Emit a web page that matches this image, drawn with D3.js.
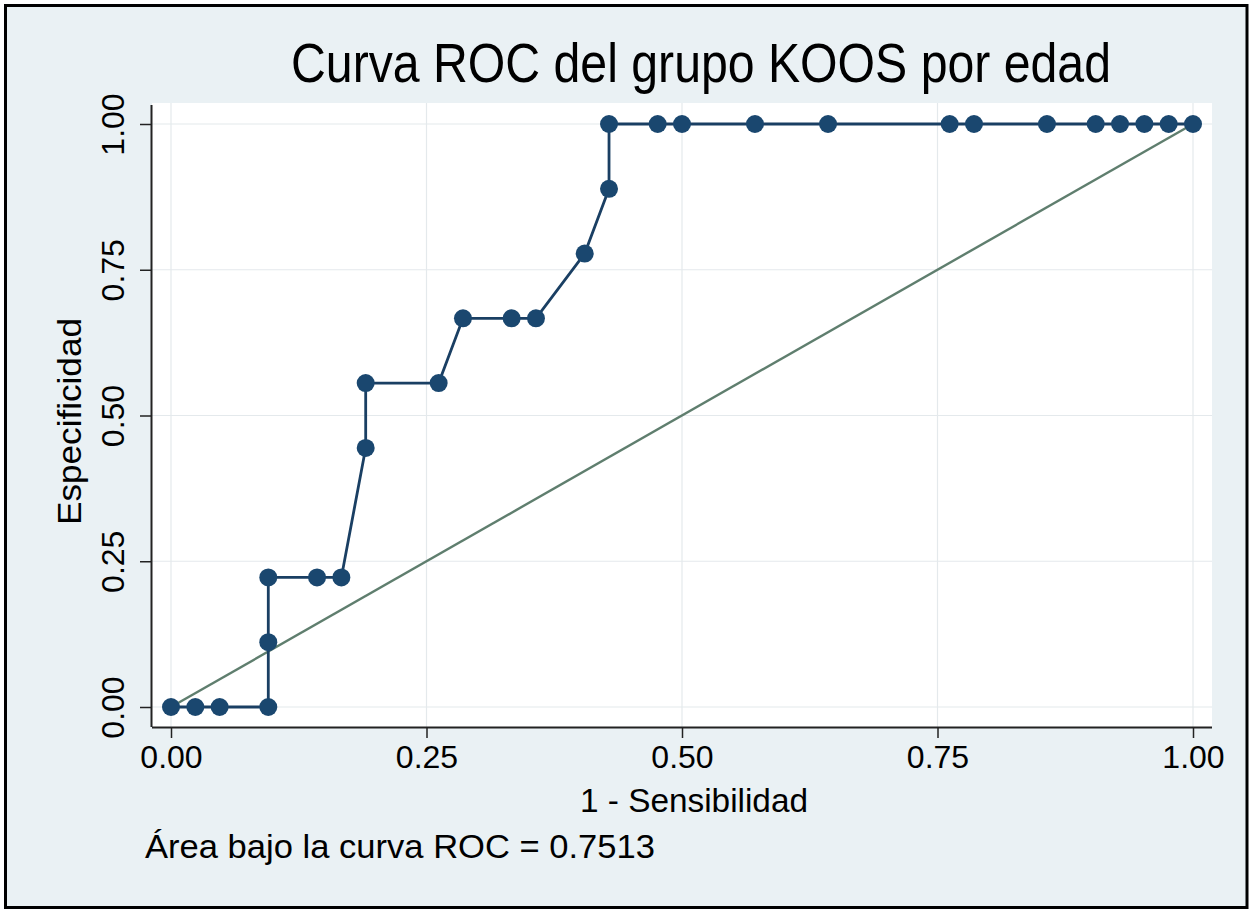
<!DOCTYPE html>
<html>
<head>
<meta charset="utf-8">
<script src="https://cdn.jsdelivr.net/npm/d3@7"></script>
<style>
  html, body { margin: 0; padding: 0; background: #ffffff; }
  svg { display: block; }
  text { font-family: "Liberation Sans", Arial, Helvetica, sans-serif; fill: #000; }
</style>
</head>
<body>
<svg id="chart" width="1259" height="914"></svg>
<script>
// ---- Data ----
const title = "Curva ROC del grupo KOOS por edad";
const xLabel = "1 - Sensibilidad";
const yLabel = "Especificidad";
const note = "Área bajo la curva ROC = 0.7513";
const xTicks = [0, 0.25, 0.5, 0.75, 1];
const yTicks = [0, 0.25, 0.5, 0.75, 1];
const tickLabels = ["0.00", "0.25", "0.50", "0.75", "1.00"];
// ROC curve points: x = 1 - Sensibilidad, y = Especificidad
const rocX = [0, 0.0238, 0.0476, 0.0952, 0.0952, 0.0952, 0.1429, 0.1667, 0.1905, 0.1905,
              0.2619, 0.2857, 0.3333, 0.3571, 0.4048, 0.4286, 0.4286, 0.4762, 0.5, 0.5714,
              0.6429, 0.7619, 0.7857, 0.8571, 0.9048, 0.9286, 0.9524, 0.9762, 1];
const rocY = [0, 0, 0, 0, 0.1111, 0.2222, 0.2222, 0.2222, 0.4444, 0.5556,
              0.5556, 0.6667, 0.6667, 0.6667, 0.7778, 0.8889, 1, 1, 1, 1,
              1, 1, 1, 1, 1, 1, 1, 1, 1];
const refLine = [[0, 0], [1, 1]];

// ---- Layout ----
const svg = d3.select("#chart");
const plot = { left: 152, right: 1212, top: 103, bottom: 727 };

const x = d3.scaleLinear().domain([0, 1]).range([171, 1193]);
const y = d3.scaleLinear().domain([0, 1]).range([707, 124]);

// outer frame
svg.append("rect")
  .attr("x", 5.5).attr("y", 5.5).attr("width", 1241.5).attr("height", 902)
  .attr("fill", "#eaf1f4").attr("stroke", "#000").attr("stroke-width", 3);

// plot region
svg.append("rect")
  .attr("x", plot.left).attr("y", plot.top)
  .attr("width", plot.right - plot.left).attr("height", plot.bottom - plot.top)
  .attr("fill", "#ffffff");

// grid lines
const grid = svg.append("g").attr("stroke", "#e4e9ec").attr("stroke-width", 1.2);
grid.selectAll("line.gx").data(xTicks).join("line")
  .attr("x1", d => x(d)).attr("x2", d => x(d))
  .attr("y1", plot.top).attr("y2", plot.bottom);
grid.selectAll("line.gy").data(yTicks).join("line")
  .attr("y1", d => y(d)).attr("y2", d => y(d))
  .attr("x1", plot.left).attr("x2", plot.right);

// axes
const xAxis = d3.axisBottom(x).tickValues(xTicks)
  .tickFormat((d, i) => tickLabels[i]).tickSize(11).tickPadding(4);
const gx = svg.append("g").attr("transform", `translate(0,${plot.bottom})`).call(xAxis);
gx.select(".domain").attr("d", `M${plot.left},0.5H${plot.right}`).attr("stroke", "#222").attr("stroke-width", 2);
gx.selectAll(".tick line").attr("stroke", "#222").attr("stroke-width", 1.5);
gx.selectAll(".tick text")
  .attr("font-size", 32).attr("font-family", "Liberation Sans, Arial, sans-serif")
  .attr("fill", "#111").attr("dy", null).attr("y", 41);

const yAxis = d3.axisLeft(y).tickValues(yTicks)
  .tickFormat((d, i) => tickLabels[i]).tickSize(12);
const gy = svg.append("g").attr("transform", `translate(${plot.left},0)`).call(yAxis);
gy.select(".domain").attr("d", `M-0.5,${plot.top + 2}V${plot.bottom}`).attr("stroke", "#222").attr("stroke-width", 2);
gy.selectAll(".tick line").attr("stroke", "#222").attr("stroke-width", 1.5);
gy.selectAll(".tick text")
  .attr("font-size", 32).attr("font-family", "Liberation Sans, Arial, sans-serif")
  .attr("fill", "#111")
  .attr("x", null).attr("dy", null)
  .attr("text-anchor", "middle")
  .attr("transform", "translate(-28,0) rotate(-90)");

// reference diagonal
svg.append("path")
  .datum(refLine)
  .attr("d", d3.line().x(d => x(d[0])).y(d => y(d[1])))
  .attr("fill", "none").attr("stroke", "#5f7e6e").attr("stroke-width", 2.4);

// ROC curve
const pts = rocX.map((v, i) => [v, rocY[i]]);
svg.append("path")
  .datum(pts)
  .attr("d", d3.line().x(d => x(d[0])).y(d => y(d[1])))
  .attr("fill", "none").attr("stroke", "#1a3f63").attr("stroke-width", 2.8);
svg.append("g").selectAll("circle").data(pts).join("circle")
  .attr("cx", d => x(d[0])).attr("cy", d => y(d[1]))
  .attr("r", 9).attr("fill", "#1a476f");

// title
svg.append("text")
  .attr("x", 701).attr("y", 82).attr("text-anchor", "middle")
  .attr("font-size", 56).attr("textLength", 820).attr("lengthAdjust", "spacingAndGlyphs")
  .text(title);

// x label
svg.append("text")
  .attr("x", 694).attr("y", 812).attr("text-anchor", "middle")
  .attr("font-size", 33).attr("textLength", 228).attr("lengthAdjust", "spacingAndGlyphs")
  .text(xLabel);

// y label
svg.append("text")
  .attr("transform", "translate(81,421.5) rotate(-90)")
  .attr("text-anchor", "middle")
  .attr("font-size", 33).attr("textLength", 207).attr("lengthAdjust", "spacingAndGlyphs")
  .text(yLabel);

// note
svg.append("text")
  .attr("x", 145).attr("y", 858)
  .attr("font-size", 33).attr("textLength", 510).attr("lengthAdjust", "spacingAndGlyphs")
  .text(note);
</script>
</body>
</html>
